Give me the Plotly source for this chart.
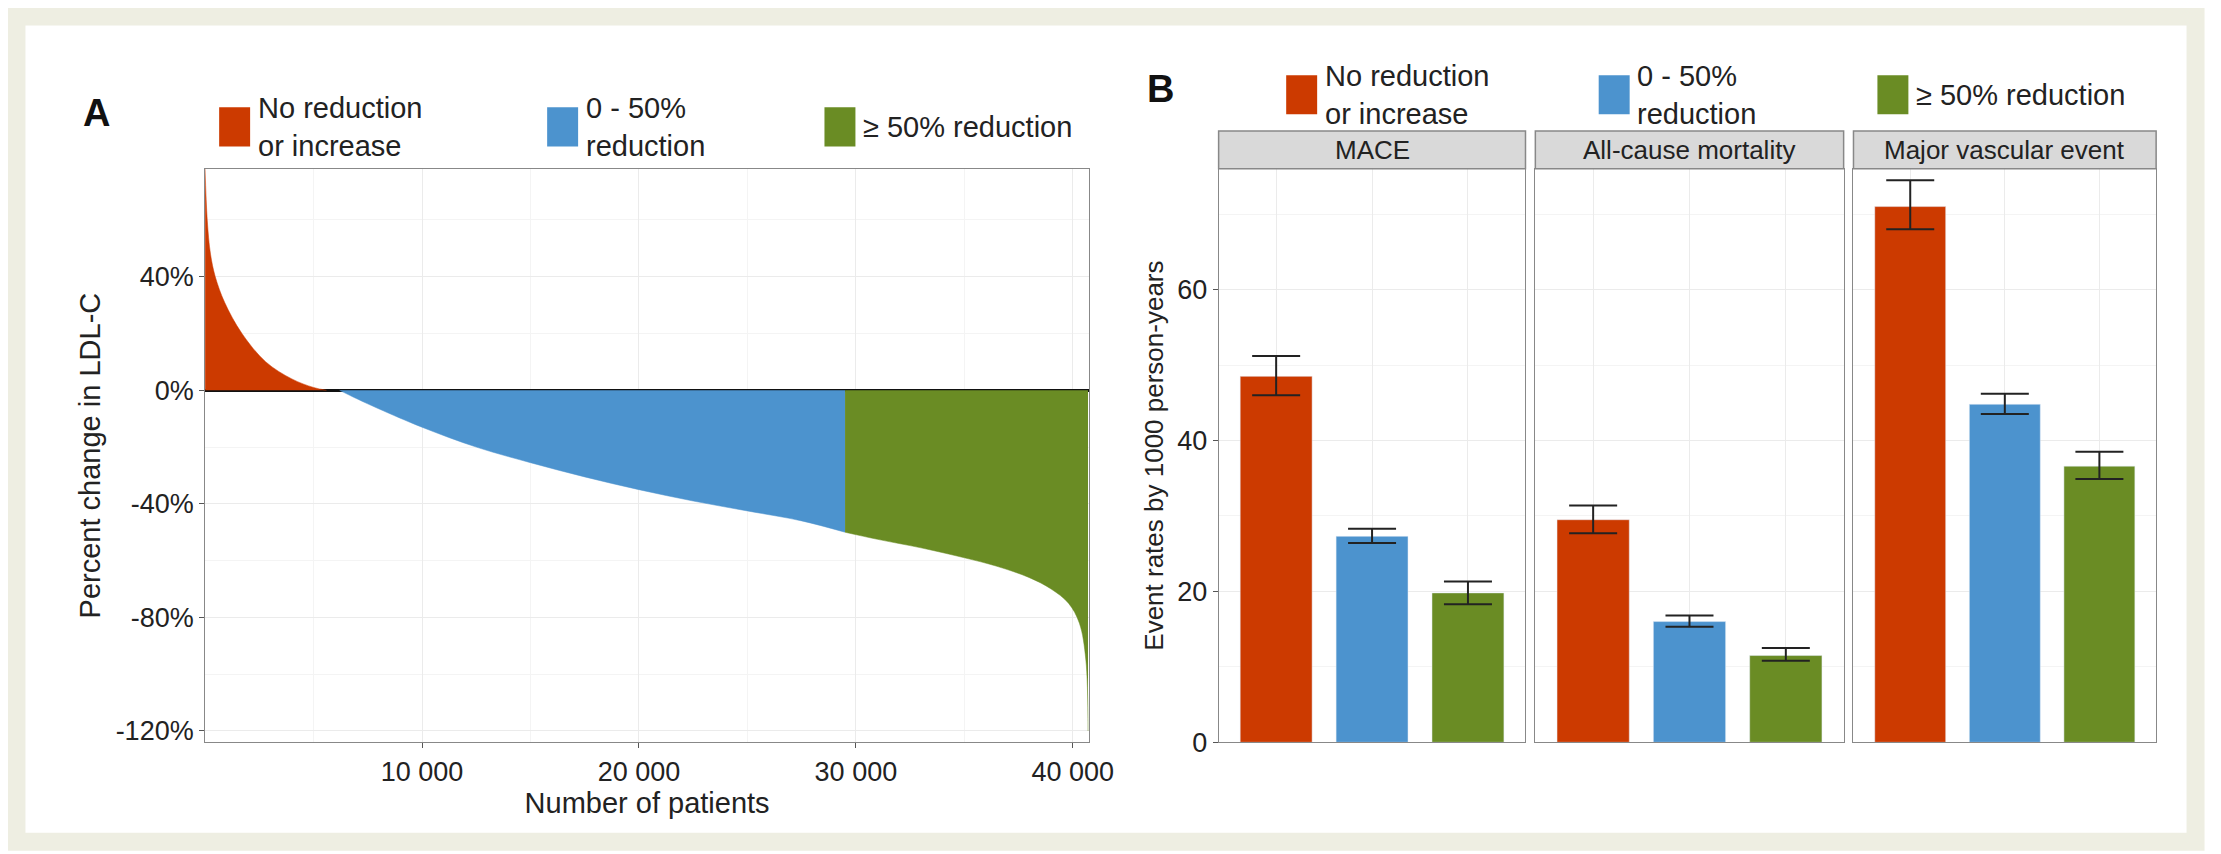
import plotly.graph_objects as go

W, H = 2221, 854
S = 2221 / 1560  # layout positions were measured on a 1560-wide view

# panel A: sorted percent change in LDL-C by patient rank
red_x = [0, 100, 250, 470, 900, 1700, 2800, 4000, 5000, 5600]
red_y = [78, 60, 48, 40, 31, 20, 10, 4, 1, 0]
blue_x = [6200, 7000, 8000, 10000, 12500, 15000, 17500, 20000, 22500, 25000, 27500, 29500]
blue_y = [0, -3, -6.5, -13, -20, -25.5, -30.5, -35, -39, -42.5, -46, -50]
green_x = [29500, 31000, 33000, 35000, 36500, 38000, 39000, 39800, 40300, 40600, 40700]
green_y = [-50, -52.5, -55.5, -59, -62, -66, -70, -75, -82, -95, -120]

# panel B: event rates by 1000 person-years
groups = ["No reduction<br>or increase", "0 - 50%<br>reduction", "≥ 50% reduction"]
colors = ["#cc3a00", "#4c93ce", "#6a8c24"]
outcomes = ["MACE", "All-cause mortality", "Major vascular event"]
rates = [[48.5, 27.3, 19.8], [29.5, 16.0, 11.5], [71.0, 44.8, 36.6]]
lo = [[46.0, 26.4, 18.3], [27.7, 15.3, 10.8], [68.0, 43.5, 34.9]]
hi = [[51.2, 28.3, 21.3], [31.4, 16.8, 12.5], [74.5, 46.2, 38.5]]

def px(x):
    return x * S / W

def py(y):
    return 1 - y * S / H

fig = go.Figure()
font = dict(family="Liberation Sans, Arial", size=27, color="#222")

for xs, ys, c in [(red_x, red_y, colors[0]), (blue_x, blue_y, colors[1]), (green_x, green_y, colors[2])]:
    fig.add_trace(go.Scatter(x=xs, y=ys, mode="lines", fill="tozeroy", fillcolor=c,
                             line=dict(color=c, width=0.5, shape="spline"),
                             xaxis="x", yaxis="y", showlegend=False, hoverinfo="skip"))

facets = [(860, 1078), (1085, 1304), (1311, 1526)]
for i in range(3):
    fig.add_trace(go.Bar(
        x=[0, 1, 2], y=rates[i], marker_color=colors, width=0.75,
        error_y=dict(type="data", symmetric=False,
                     array=[h - r for h, r in zip(hi[i], rates[i])],
                     arrayminus=[r - l for r, l in zip(rates[i], lo[i])],
                     color="#222", thickness=2, width=24),
        xaxis="x" + str(i + 2), yaxis="y" + str(i + 2), showlegend=False))

grid = "#ebebeb"
minor = dict(showgrid=True, gridcolor="#f4f4f4")
layout = dict(
    width=W, height=H, paper_bgcolor="white", plot_bgcolor="white",
    margin=dict(l=0, r=0, t=0, b=0), font=font,
    xaxis=dict(domain=[px(140), px(768)], range=[0, 40750], tickvals=[10000, 20000, 30000, 40000],
               ticktext=["10 000", "20 000", "30 000", "40 000"], showgrid=True, gridcolor=grid,
               minor=dict(tickvals=[5000, 15000, 25000, 35000], **minor),
               showline=True, linecolor="#888", mirror=True, ticks="outside", ticklen=5,
               tickcolor="#555", title=dict(text="Number of patients", standoff=0,
                                            font=dict(size=29)), zeroline=False),
    yaxis=dict(domain=[py(525), py(115)], range=[-124, 78], tickvals=[40, 0, -40, -80, -120],
               ticktext=["40%", "0%", "-40%", "-80%", "-120%"], showgrid=True, gridcolor=grid,
               minor=dict(tickvals=[60, 20, -20, -60, -100], **minor),
               showline=True, linecolor="#888", mirror=True, ticks="outside", ticklen=5,
               tickcolor="#555", zeroline=True, zerolinecolor="#111", zerolinewidth=2.5,
               title=dict(text="Percent change in LDL-C", standoff=6, font=dict(size=29))),
)
for i, (a, b) in enumerate(facets):
    n = str(i + 2)
    layout["xaxis" + n] = dict(domain=[px(a), px(b)], range=[-0.6, 2.6], anchor="y" + n,
                               tickvals=[0, 1, 2], showticklabels=False, showgrid=True, gridcolor=grid,
                               showline=True, linecolor="#888", mirror=True, zeroline=False)
    layout["yaxis" + n] = dict(domain=[py(525), py(115)], range=[0, 76], anchor="x" + n,
                               tickvals=[0, 20, 40, 60], showticklabels=(i == 0), showgrid=True,
                               gridcolor=grid, minor=dict(tickvals=[10, 30, 50, 70], **minor),
                               showline=True, linecolor="#888", mirror=True,
                               zeroline=False, ticks="outside" if i == 0 else "", ticklen=5,
                               tickcolor="#555",
                               title=dict(text="Event rates by 1000 person-years" if i == 0 else "",
                                          standoff=6, font=dict(size=26)))
fig.update_layout(**layout)

shapes = [dict(type="rect", xref="paper", yref="paper", x0=px(6), x1=px(1554), y0=py(596), y1=py(6),
               line=dict(color="#eeeee2", width=18), layer="below")]
ann = [dict(text="<b>A</b>", x=px(52), y=py(75), font=dict(size=38, color="#111")),
       dict(text="<b>B</b>", x=px(808), y=py(58), font=dict(size=38, color="#111"))]
for i, (a, b) in enumerate(facets):
    shapes.append(dict(type="rect", xref="paper", yref="paper", x0=px(a), x1=px(b), y0=py(115), y1=py(88),
                       fillcolor="#d9d9d9", line=dict(color="#888", width=1.5)))
    ann.append(dict(text=outcomes[i], x=px((a + b) / 2), y=py(101.5), xanchor="center",
                    font=dict(size=26, color="#222")))
# legends
for (lx, ly) in [(150, 85), (908, 62)]:
    offs = [0, 233, 430] if lx == 150 else [0, 222, 420]
    for g, o in zip(range(3), offs):
        x0 = lx + o
        shapes.append(dict(type="rect", xref="paper", yref="paper", x0=px(x0), x1=px(x0 + 22),
                           y0=py(ly + 14), y1=py(ly - 14), fillcolor=colors[g], line=dict(width=0)))
        ann.append(dict(text=groups[g], x=px(x0 + 26), y=py(ly), xanchor="left", align="left",
                        font=dict(size=29, color="#222")))
for a in ann:
    a.setdefault("xref", "paper")
    a.setdefault("yref", "paper")
    a.setdefault("showarrow", False)
    a.setdefault("xanchor", "left")
    a.setdefault("yanchor", "middle")
fig.update_layout(shapes=shapes, annotations=ann)

fig.write_html("out.html")
